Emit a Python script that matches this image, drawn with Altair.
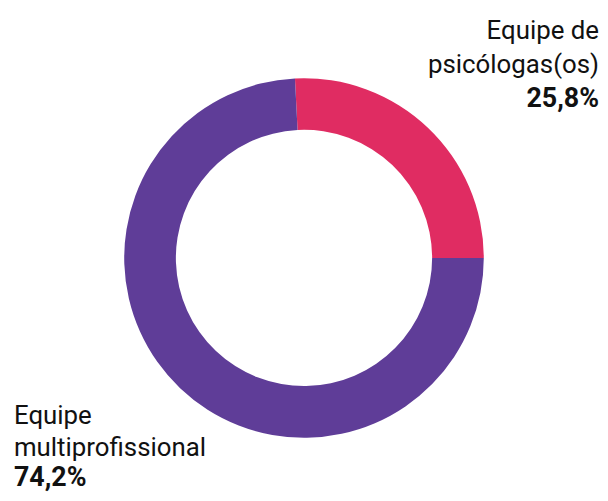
import math
import altair as alt
import pandas as pd

categories = ["Equipe de psicólogas(os)", "Equipe multiprofissional"]
label_lines = [["Equipe de", "psicólogas(os)"], ["Equipe", "multiprofissional"]]
values = [25.8, 74.2]
colors = ["#E02C62", "#5F3D98"]

df = pd.DataFrame({"categoria": categories, "valor": values, "ordem": [0, 1]})

offset = math.pi / 2 - values[0] / 100 * 2 * math.pi

donut = alt.Chart(df).mark_arc(outerRadius=181, innerRadius=129).encode(
    theta=alt.Theta("valor:Q", stack=True,
                    scale=alt.Scale(domain=[0, 100], range=[offset, offset + 2 * math.pi])),
    color=alt.Color("categoria:N", scale=alt.Scale(domain=categories, range=colors), legend=None),
    order=alt.Order("ordem:Q"),
    x=alt.value(298),
    y=alt.value(250),
)

def pct(v):
    return f"{v:.1f}%".replace(".", ",")

FONT = "Roboto"
FS = 26

def txt(text, x, y, align, bold=False):
    return alt.Chart(pd.DataFrame({"t": [text]})).mark_text(
        font=FONT, fontSize=FS + (1 if bold else 0), fontWeight="bold" if bold else "normal",
        align=align, baseline="alphabetic", color="#111111"
    ).encode(text="t:N", x=alt.value(x), y=alt.value(y))

layers = [donut,
          txt(label_lines[0][0], 595, 30, "right"),
          txt(label_lines[0][1], 595, 64, "right"),
          txt(pct(values[0]), 595, 98, "right", True),
          txt(label_lines[1][0], 6, 417, "left"),
          txt(label_lines[1][1], 6, 449, "left"),
          txt(pct(values[1]), 6, 480, "left", True)]

chart = alt.layer(*layers).properties(
    width=596, height=485, padding=0, autosize=alt.AutoSizeParams(type="none")
).configure_view(stroke=None)

chart.save("out.html", embed_options={"renderer": "svg", "actions": False})
